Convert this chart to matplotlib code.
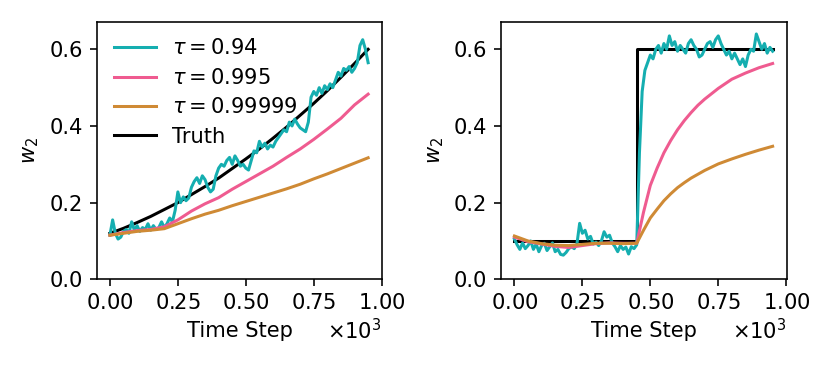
import matplotlib
matplotlib.use("Agg")
import matplotlib.pyplot as plt
from matplotlib.ticker import ScalarFormatter

# ---------------- data ----------------
t_noisy = list(range(0, 951, 10))

left_fast = [0.115, 0.155, 0.120, 0.105, 0.110, 0.125, 0.130, 0.120, 0.150, 0.128,
             0.140, 0.125, 0.135, 0.130, 0.145, 0.128, 0.140, 0.130, 0.135, 0.150,
             0.135, 0.145, 0.160, 0.150, 0.180, 0.228, 0.200, 0.215, 0.205, 0.212,
             0.240, 0.255, 0.265, 0.250, 0.270, 0.260, 0.240, 0.228, 0.235, 0.270,
             0.290, 0.300, 0.295, 0.310, 0.318, 0.300, 0.322, 0.310, 0.295, 0.300,
             0.290, 0.285, 0.310, 0.335, 0.330, 0.360, 0.345, 0.355, 0.340, 0.350,
             0.345, 0.360, 0.370, 0.380, 0.390, 0.385, 0.410, 0.400, 0.418, 0.405,
             0.395, 0.390, 0.385, 0.410, 0.475, 0.490, 0.480, 0.500, 0.485, 0.505,
             0.495, 0.510, 0.500, 0.520, 0.540, 0.530, 0.550, 0.545, 0.555, 0.540,
             0.550, 0.565, 0.610, 0.625, 0.600, 0.565]

right_fast = [0.105, 0.090, 0.078, 0.095, 0.080, 0.088, 0.100, 0.078, 0.092, 0.072,
              0.088, 0.094, 0.075, 0.085, 0.095, 0.072, 0.078, 0.065, 0.063, 0.070,
              0.080, 0.085, 0.080, 0.092, 0.146, 0.120, 0.128, 0.105, 0.112, 0.092,
              0.097, 0.088, 0.100, 0.124, 0.110, 0.115, 0.095, 0.085, 0.072, 0.088,
              0.078, 0.084, 0.066, 0.085, 0.080, 0.090, 0.330, 0.490, 0.545, 0.565,
              0.585, 0.575, 0.600, 0.610, 0.590, 0.615, 0.600, 0.635, 0.610, 0.620,
              0.595, 0.610, 0.600, 0.590, 0.615, 0.625, 0.610, 0.600, 0.580, 0.585,
              0.600, 0.615, 0.620, 0.605, 0.625, 0.635, 0.615, 0.600, 0.585, 0.595,
              0.575, 0.590, 0.575, 0.560, 0.575, 0.555, 0.585, 0.600, 0.595, 0.640,
              0.620, 0.600, 0.615, 0.590, 0.605, 0.595]

t_smooth = list(range(0, 951, 50))
left_mid = [0.115, 0.122, 0.127, 0.130, 0.137, 0.155, 0.178, 0.197, 0.213, 0.235,
            0.255, 0.275, 0.295, 0.318, 0.340, 0.365, 0.392, 0.420, 0.455, 0.483]
left_slow = [0.115, 0.120, 0.125, 0.128, 0.132, 0.145, 0.158, 0.170, 0.180, 0.192,
             0.203, 0.214, 0.225, 0.236, 0.248, 0.262, 0.275, 0.289, 0.303, 0.317]
left_truth = [0.120, 0.133, 0.148, 0.164, 0.182, 0.200, 0.221, 0.242, 0.264, 0.289,
              0.314, 0.340, 0.368, 0.397, 0.428, 0.459, 0.492, 0.527, 0.563, 0.600]

t_right_smooth = [0, 50, 100, 150, 200, 250, 300, 350, 400, 450, 475, 500, 525, 550,
                  575, 600, 625, 650, 675, 700, 750, 800, 850, 900, 950]
right_mid = [0.110, 0.098, 0.092, 0.086, 0.083, 0.088, 0.093, 0.095, 0.094, 0.094,
             0.175, 0.245, 0.290, 0.330, 0.362, 0.390, 0.414, 0.435, 0.454, 0.470,
             0.498, 0.522, 0.538, 0.552, 0.563]
right_slow = [0.113, 0.100, 0.093, 0.089, 0.088, 0.091, 0.094, 0.094, 0.093, 0.094,
              0.128, 0.160, 0.183, 0.205, 0.223, 0.239, 0.252, 0.264, 0.274, 0.284,
              0.301, 0.314, 0.326, 0.337, 0.347]

t_right_truth = [0, 450, 450, 950]
right_truth = [0.10, 0.10, 0.60, 0.60]

labels = [r"$\tau = 0.94$", r"$\tau = 0.995$", r"$\tau = 0.99999$", "Truth"]
colors = ["#15aeb0", "#ef5b90", "#cf8a35", "black"]

# ---------------- figure ----------------
s = 1.45
plt.rcParams.update({
    "font.size": 10.4 * s,
    "lines.linewidth": 1.5 * s,
    "axes.linewidth": 0.8 * s,
    "xtick.major.size": 3.5 * s,
    "ytick.major.size": 3.5 * s,
    "xtick.major.width": 0.8 * s,
    "ytick.major.width": 0.8 * s,
    "xtick.major.pad": 3.5 * s,
    "ytick.major.pad": 3.5 * s,
    "axes.labelpad": 4.0 * s,
})

fig = plt.figure(figsize=(8.31, 3.65), dpi=100)
ax1 = fig.add_axes([97 / 831, 1 - 279.3 / 365, 285 / 831, 257.6 / 365])
ax2 = fig.add_axes([501.5 / 831, 1 - 279.3 / 365, 285 / 831, 257.6 / 365])

ax1.plot(t_noisy, left_fast, color=colors[0], label=labels[0], zorder=3)
ax1.plot(t_smooth, left_mid, color=colors[1], label=labels[1], zorder=3)
ax1.plot(t_smooth, left_slow, color=colors[2], label=labels[2], zorder=3)
ax1.plot(t_smooth, left_truth, color=colors[3], label=labels[3], zorder=2)

ax2.plot(t_noisy, right_fast, color=colors[0], zorder=3)
ax2.plot(t_right_smooth, right_mid, color=colors[1], zorder=3)
ax2.plot(t_right_smooth, right_slow, color=colors[2], zorder=3)
ax2.plot(t_right_truth, right_truth, color=colors[3], zorder=2)

for ax in (ax1, ax2):
    ax.set_xlim(-47.5, 1001)
    ax.set_ylim(0, 0.672)
    ax.set_xticks([0, 250, 500, 750, 1000])
    ax.set_yticks([0.0, 0.2, 0.4, 0.6])
    fmt = ScalarFormatter(useMathText=True)
    fmt.set_powerlimits((0, 0))
    ax.xaxis.set_major_formatter(fmt)
    ax.set_xlabel("Time Step")
    ax.set_ylabel(r"$w_2$")

ax1.legend(loc="upper left", frameon=False, borderaxespad=0.4,
           handlelength=2.0, labelspacing=0.45)

fig.savefig("out.png", dpi=100)
